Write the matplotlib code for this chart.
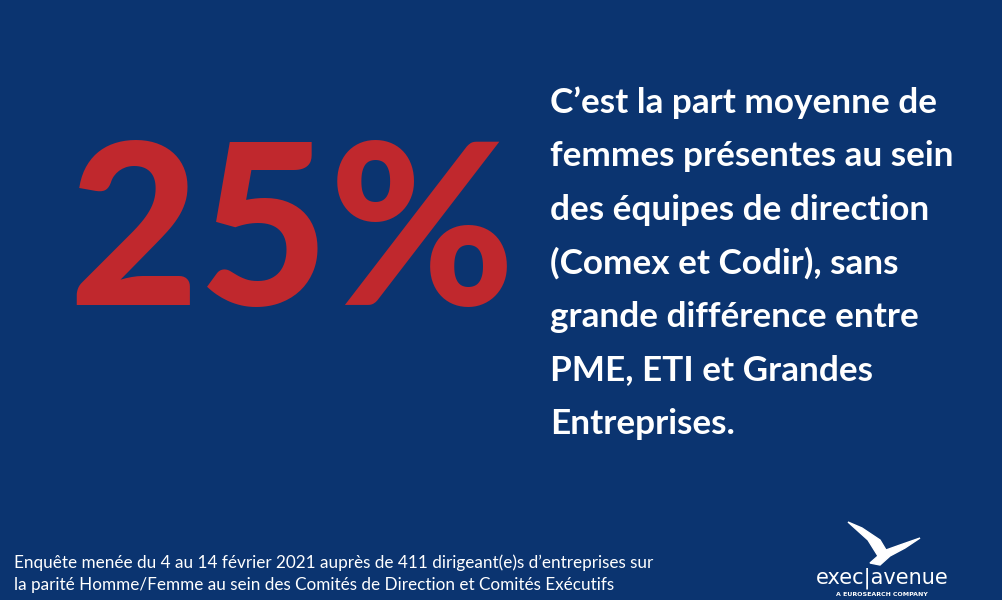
import matplotlib.pyplot as plt
from matplotlib.patches import Polygon

bg = '#0b3470'
red = '#c0282d'

big_value = '25%'
lines = ["C\u2019est la part moyenne de",
         "femmes présentes au sein",
         "des équipes de direction",
         "(Comex et Codir), sans",
         "grande différence entre",
         "PME, ETI et Grandes",
         "Entreprises."]
footer = ["Enquête menée du 4 au 14 février 2021 auprès de 411 dirigeant(e)s d\u2019entreprises sur",
          "la parité Homme/Femme au sein des Comités de Direction et Comités Exécutifs"]

W, H = 1002, 600
fig = plt.figure(figsize=(W / 100, H / 100), dpi=100)
fig.patch.set_facecolor(bg)

def px(x, y):
    return x / W, 1 - y / H

fig.text(*px(68, 305), big_value, color=red, fontsize=162, fontweight='black',
         family='Lato', ha='left', va='baseline')

for i, t in enumerate(lines):
    fig.text(*px(550, 103 + i * 53.5), t, color='white', fontsize=25.3,
             fontweight='bold', family='Lato', ha='left', va='center')

for i, t in enumerate(footer):
    fig.text(*px(14, 563 + i * 22), t, color='white', fontsize=12.3,
             family='Lato', ha='left', va='center')

# logo
fig.text(*px(882, 578), 'exec|avenue', color='white', fontsize=15,
         family='DejaVu Sans', ha='center', va='center')
fig.text(*px(882, 594), 'A EUROSEARCH COMPANY', color='white', fontsize=4.5,
         fontweight='bold', family='DejaVu Sans', ha='center', va='center')
bird = [(848, 522), (868, 540), (878, 556), (870, 563), (880, 565), (890, 556),
        (905, 548), (920, 538), (900, 545), (886, 550), (880, 540), (862, 528)]
fig.patches.append(Polygon([px(x, y) for x, y in bird], closed=True,
                           transform=fig.transFigure, color='white'))

fig.savefig('out.png', dpi=100, facecolor=bg)
